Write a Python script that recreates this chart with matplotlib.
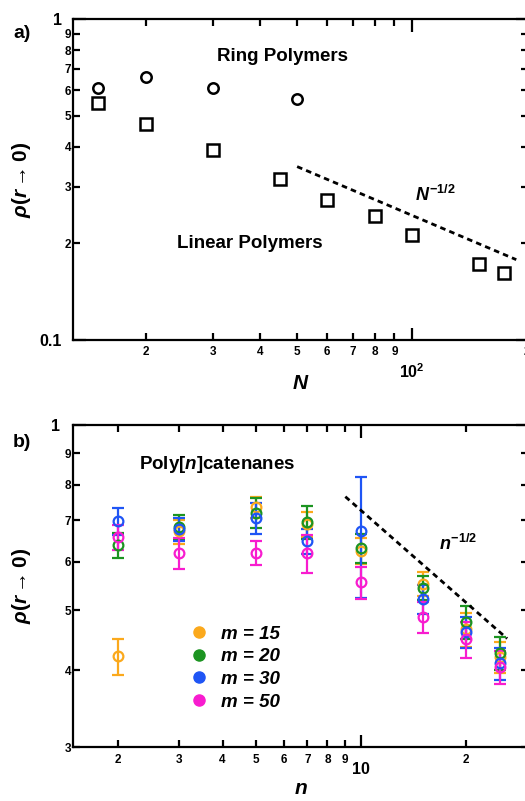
import numpy as np
import matplotlib
matplotlib.use("Agg")
import matplotlib.pyplot as plt
from matplotlib.lines import Line2D

# ---------------------------------------------------------------
# Data
# ---------------------------------------------------------------
# (a) ring vs linear polymers, contact density vs chain length N
ring_N = [15, 20, 30, 50]
ring_rho = [0.608, 0.658, 0.611, 0.563]

linear_N = [15, 20, 30, 45, 60, 80, 100, 150, 175]
linear_rho = [0.548, 0.471, 0.391, 0.317, 0.274, 0.243, 0.213, 0.173, 0.162]

# N^-1/2 guide line end points
guide_a_N = [50, 188]
guide_a_rho = [0.347, 0.178]

# (b) poly[n]catenanes, contact density vs number of rings n
n_rings = [2, 3, 5, 7, 10, 15, 20, 25]

m_values = [15, 20, 30, 50]
m_colors = ["#FBA91C", "#1C9421", "#1F55F5", "#F81CCF"]

rho_m15 = [0.421, 0.672, 0.735, 0.690, 0.625, 0.552, 0.466, 0.420]
err_m15 = [0.028, 0.030, 0.030, 0.032, 0.030, 0.025, 0.030, 0.025]

rho_m20 = [0.639, 0.684, 0.720, 0.696, 0.631, 0.544, 0.479, 0.426]
err_m20 = [0.030, 0.030, 0.040, 0.043, 0.035, 0.025, 0.030, 0.026]

rho_m30 = [0.699, 0.677, 0.706, 0.648, 0.674, 0.522, 0.461, 0.410]
err_m30 = [0.035, 0.030, 0.041, 0.030, 0.150, 0.028, 0.027, 0.025]

rho_m50 = [0.657, 0.620, 0.620, 0.620, 0.555, 0.487, 0.449, 0.405]
err_m50 = [0.030, 0.036, 0.027, 0.044, 0.034, 0.028, 0.030, 0.025]

# n^-1/2 guide line end points
guide_b_n = [9.0, 26.2]
guide_b_rho = [0.765, 0.450]

# ---------------------------------------------------------------
# Style
# ---------------------------------------------------------------
plt.rcParams["font.family"] = ["Liberation Sans", "DejaVu Sans"]
plt.rcParams["font.weight"] = "bold"
plt.rcParams["mathtext.fontset"] = "custom"
plt.rcParams["mathtext.rm"] = "Liberation Sans:bold"
plt.rcParams["mathtext.it"] = "Liberation Sans:italic:bold"
plt.rcParams["mathtext.bf"] = "Liberation Sans:bold"
plt.rcParams["axes.linewidth"] = 1.6

fig = plt.figure(figsize=(5.25, 8.01), dpi=100)
ax_a = fig.add_axes([0.139, 0.5755, 0.867, 0.4007])
ax_b = fig.add_axes([0.139, 0.0674, 0.867, 0.402])


def style_axis(ax):
    ax.tick_params(which="both", direction="in", top=True, right=True,
                   width=1.6)
    ax.tick_params(which="major", length=9)
    ax.tick_params(which="minor", length=5)


# ---------------------------------------------------------------
# Panel (a)
# ---------------------------------------------------------------
ax_a.set_xscale("log")
ax_a.set_yscale("log")
ax_a.plot(ring_N, ring_rho, "o", ms=7.5, mfc="none", mec="k", mew=1.8)
ax_a.plot(linear_N, linear_rho, "s", ms=8.5, mfc="none", mec="k", mew=1.8)
ax_a.plot(guide_a_N, guide_a_rho, color="k", lw=2, ls=(0, (2, 1.5)))

ax_a.set_xlim(12.9, 202)
ax_a.set_ylim(0.1, 1)

ax_a.set_xticks([100])
ax_a.set_xticklabels([r"$10^2$"], fontsize=11.5)
ax_a.set_xticks([20, 30, 40, 50, 60, 70, 80, 90, 200], minor=True)
ax_a.set_xticklabels(["2", "3", "4", "5", "6", "7", "8", "9", "2"],
                     minor=True, fontsize=8.5)
ax_a.set_yticks([0.1, 1])
ax_a.set_yticklabels(["0.1", "1"], fontsize=11.5)
ax_a.set_yticks([0.2, 0.3, 0.4, 0.5, 0.6, 0.7, 0.8, 0.9], minor=True)
ax_a.set_yticklabels(["2", "3", "4", "5", "6", "7", "8", "9"],
                     minor=True, fontsize=8.5)
style_axis(ax_a)
ax_a.tick_params(axis="x", which="major", pad=16)
ax_a.tick_params(axis="x", which="minor", pad=4)
ax_a.tick_params(axis="y", which="major", pad=8)
ax_a.tick_params(axis="y", which="minor", pad=1.5)

ax_a.set_xlabel(r"$N$", fontsize=15)
ax_a.xaxis.set_label_coords(0.5, -0.105)
ax_a.set_ylabel(r"$\rho(r \rightarrow 0)$", fontsize=15)
ax_a.yaxis.set_label_coords(-0.088, 0.5)

ax_a.text(0.46, 0.882, "Ring Polymers", transform=ax_a.transAxes,
          ha="center", va="center", fontsize=13.5)
ax_a.text(0.388, 0.302, "Linear Polymers", transform=ax_a.transAxes,
          ha="center", va="center", fontsize=13.5)
ax_a.text(0.797, 0.452, r"$\mathit{N^{-1/2}}$", transform=ax_a.transAxes,
          ha="center", va="center", fontsize=13)
fig.text(0.042, 0.958, "a)", ha="center", va="center", fontsize=14)

# ---------------------------------------------------------------
# Panel (b)
# ---------------------------------------------------------------
ax_b.set_xscale("log")
ax_b.set_yscale("log")
series_b = [(rho_m15, err_m15), (rho_m20, err_m20),
            (rho_m30, err_m30), (rho_m50, err_m50)]
for (rho, err), m, col in zip(series_b, m_values, m_colors):
    ax_b.errorbar(n_rings, rho, yerr=err, fmt="o", ms=7, mfc="none",
                  mec=col, mew=1.6, ecolor=col, elinewidth=1.6,
                  capsize=4, capthick=1.6)
ax_b.plot(guide_b_n, guide_b_rho, color="k", lw=2, ls=(0, (2, 1.5)))

ax_b.set_xlim(1.49, 30.1)
ax_b.set_ylim(0.3, 1)

ax_b.set_xticks([10])
ax_b.set_xticklabels(["10"], fontsize=11.5)
ax_b.set_xticks([2, 3, 4, 5, 6, 7, 8, 9, 20, 30], minor=True)
ax_b.set_xticklabels(["2", "3", "4", "5", "6", "7", "8", "9", "2", "3"],
                     minor=True, fontsize=8.5)
ax_b.set_yticks([1])
ax_b.set_yticklabels(["1"], fontsize=11.5)
ax_b.set_yticks([0.3, 0.4, 0.5, 0.6, 0.7, 0.8, 0.9], minor=True)
ax_b.set_yticklabels(["3", "4", "5", "6", "7", "8", "9"],
                     minor=True, fontsize=8.5)
style_axis(ax_b)
ax_b.tick_params(axis="x", which="major", pad=11)
ax_b.tick_params(axis="x", which="minor", pad=5)
ax_b.tick_params(axis="y", which="major", pad=9)
ax_b.tick_params(axis="y", which="minor", pad=1.5)

ax_b.set_xlabel(r"$n$", fontsize=15)
ax_b.xaxis.set_label_coords(0.5, -0.098)
ax_b.set_ylabel(r"$\rho(r \rightarrow 0)$", fontsize=15)
ax_b.yaxis.set_label_coords(-0.088, 0.5)

ax_b.text(0.317, 0.876, r"Poly[$n$]catenanes", transform=ax_b.transAxes,
          ha="center", va="center", fontsize=13.5)
ax_b.text(0.846, 0.630, r"$\mathit{n^{-1/2}}$", transform=ax_b.transAxes,
          ha="center", va="center", fontsize=13)
fig.text(0.042, 0.448, "b)", ha="center", va="center", fontsize=14)

handles = [Line2D([], [], ls="none", marker="o", ms=8, mfc=c, mec=c)
           for c in m_colors]
labels = [f"m = {m}" for m in m_values]
leg = ax_b.legend(handles, labels, loc="upper left",
                  bbox_to_anchor=(0.215, 0.43), frameon=False,
                  handletextpad=0.55, labelspacing=0.3, handlelength=1.2,
                  prop={"size": 13.5, "weight": "bold", "style": "italic"})

fig.savefig("out.png", dpi=100)
